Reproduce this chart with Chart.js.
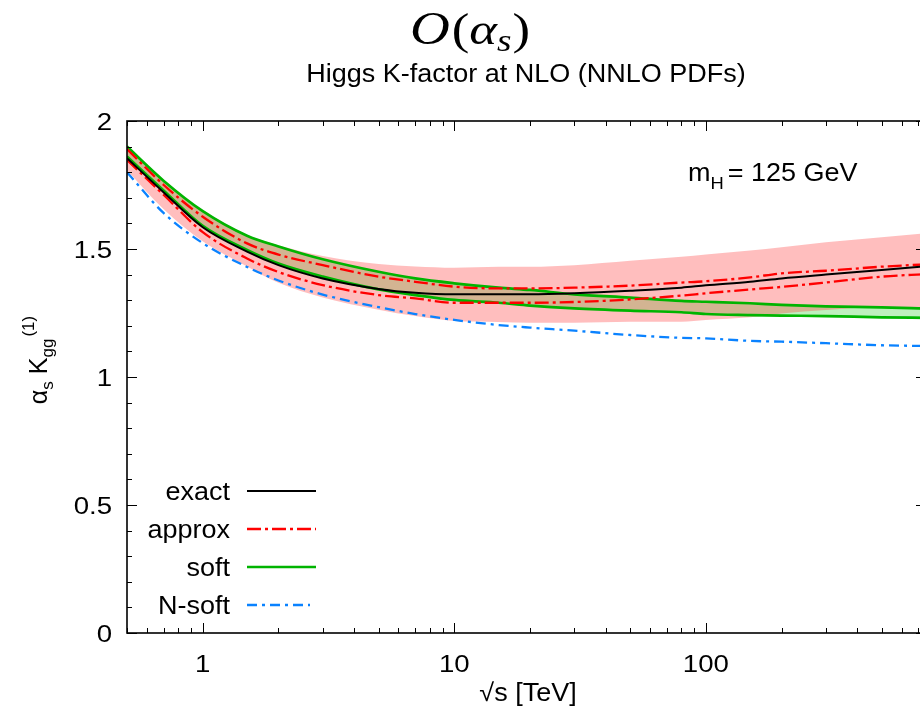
<!DOCTYPE html>
<html><head><meta charset="utf-8">
<script src="https://cdn.jsdelivr.net/npm/chart.js@4/dist/chart.umd.min.js"></script>
<style>
html,body{margin:0;padding:0;background:#fff;overflow:hidden}
#wrap{width:920px;height:707px;overflow:hidden;position:relative}
canvas{display:block}
</style>
</head><body><div id="wrap"><canvas id="c" width="932" height="707" style="width:932px;height:707px"></canvas></div>
<script>
// ---- data ----
const sqrtS    = [0.5, 0.7, 1, 1.5, 2, 3, 5, 7, 10, 15, 20, 30, 50, 80, 100, 150, 200, 300, 500, 750];
const exact    = [1.855,1.721,1.585,1.490,1.437,1.385,1.344,1.329,1.323,1.323,1.323,1.327,1.337,1.349,1.358,1.372,1.385,1.400,1.418,1.433];
const approxHi = [1.890,1.750,1.626,1.522,1.478,1.437,1.392,1.372,1.353,1.346,1.346,1.349,1.357,1.369,1.374,1.389,1.405,1.415,1.431,1.440];
const approxLo = [1.848,1.711,1.566,1.463,1.410,1.359,1.320,1.307,1.290,1.290,1.290,1.293,1.303,1.318,1.327,1.342,1.352,1.369,1.392,1.402];
const softHi   = [1.900,1.766,1.648,1.552,1.510,1.460,1.411,1.385,1.366,1.349,1.340,1.323,1.310,1.297,1.294,1.288,1.282,1.276,1.272,1.267];
const softLo   = [1.861,1.728,1.590,1.496,1.443,1.392,1.342,1.320,1.301,1.290,1.279,1.268,1.259,1.253,1.246,1.242,1.240,1.238,1.233,1.231];
const nSoft    = [1.800,1.640,1.523,1.430,1.377,1.322,1.273,1.246,1.223,1.203,1.193,1.181,1.164,1.153,1.151,1.141,1.138,1.132,1.124,1.121];
const bandHi   = [1.905,1.770,1.652,1.556,1.515,1.473,1.441,1.432,1.427,1.431,1.431,1.437,1.454,1.470,1.479,1.494,1.507,1.526,1.546,1.562];
const bandLo   = [1.808,1.655,1.530,1.432,1.368,1.311,1.263,1.238,1.219,1.215,1.212,1.212,1.216,1.216,1.223,1.233,1.248,1.262,1.272,1.272];

const xTickVals = [1, 10, 100];
const xTickLabels = ['1', '10', '100'];
const yTickVals = [0, 0.5, 1, 1.5, 2];
const yTickLabels = ['0', '0.5', '1', '1.5', '2'];
const legendNames = ['exact', 'approx', 'soft', 'N-soft'];

const FONT = '"Liberation Sans", Arial, Helvetica, sans-serif';
const SERIF = '"Liberation Serif", "Times New Roman", serif';
const pts = arr => arr.map((v, i) => ({x: sqrtS[i], y: v}));

const C_BLACK = '#000000', C_RED = '#ff0000', C_GREEN = '#00b400', C_BLUE = '#0a82ff';
const D_RED = [14, 4, 3, 4], D_BLUE = [10, 5, 3, 5];

const base = {pointRadius: 0, pointHoverRadius: 0, cubicInterpolationMode: 'monotone', fill: false};
const datasets = [
  {...base, label: 'exact', data: pts(exact), borderColor: C_BLACK, borderWidth: 2},
  {...base, label: 'approx', data: pts(approxHi), borderColor: C_RED, borderWidth: 2.3, borderDash: D_RED},
  {...base, label: 'approx2', data: pts(approxLo), borderColor: C_RED, borderWidth: 2.3, borderDash: D_RED},
  {...base, label: 'N-soft', data: pts(nSoft), borderColor: C_BLUE, borderWidth: 2.3, borderDash: D_BLUE},
  {...base, label: 'bandHi', data: pts(bandHi), borderWidth: 0, borderColor: 'rgba(0,0,0,0)', fill: '+1', backgroundColor: 'rgba(255,60,60,0.333)'},
  {...base, label: 'bandLo', data: pts(bandLo), borderWidth: 0, borderColor: 'rgba(0,0,0,0)'},
  {...base, label: 'soft', data: pts(softHi), borderColor: C_GREEN, borderWidth: 2.7, fill: '+1', backgroundColor: 'rgb(190,240,190)'},
  {...base, label: 'soft2', data: pts(softLo), borderColor: C_GREEN, borderWidth: 2.7},
];

// draw a run of text segments with a horizontal stretch sx
function drawRich(ctx, segs, x, y, align, sx) {
  sx = sx || 1;
  let w = 0;
  segs.forEach(s => { ctx.font = s.font; s.w = ctx.measureText(s.text).width * sx; w += s.w + (s.gap || 0); });
  let cx = align === 'center' ? x - w / 2 : (align === 'right' ? x - w : x);
  ctx.textAlign = 'left';
  segs.forEach(s => {
    ctx.font = s.font;
    ctx.save(); ctx.translate(cx, y + (s.dy || 0)); ctx.scale(sx, 1);
    ctx.fillText(s.text, 0, 0); ctx.restore();
    cx += s.w + (s.gap || 0);
  });
}

const TICK_FONT = '23px ' + FONT, TICK_SX = 1.2;
const TEXT_FONT = '25px ' + FONT, SUB_FONT = '17px ' + FONT, TEXT_SX = 1.08;

const decor = {
  id: 'decor',
  afterDraw(chart) {
    const ctx = chart.ctx, a = chart.chartArea, xs = chart.scales.x, ys = chart.scales.y;
    ctx.save();
    ctx.strokeStyle = '#000'; ctx.lineWidth = 1.6; ctx.setLineDash([]);
    ctx.strokeRect(a.left, a.top, a.right - a.left, a.bottom - a.top);
    ctx.lineWidth = 1;
    ctx.beginPath();
    for (let e = -1; e <= 3; e++) {
      for (let k = 1; k <= 9; k++) {
        const v = k * Math.pow(10, e);
        if (v < xs.min - 1e-9 || v > xs.max + 1e-9) continue;
        const px = Math.round(xs.getPixelForValue(v)) + 0.5;
        const len = k === 1 ? 10 : 5;
        ctx.moveTo(px, a.bottom); ctx.lineTo(px, a.bottom - len);
        ctx.moveTo(px, a.top); ctx.lineTo(px, a.top + len);
      }
    }
    for (let i = 0; i <= 20; i++) {
      const v = i / 10;
      const py = Math.round(ys.getPixelForValue(v)) + 0.5;
      const len = i % 5 === 0 ? 10 : 5;
      ctx.moveTo(a.left, py); ctx.lineTo(a.left + len, py);
      ctx.moveTo(a.right, py); ctx.lineTo(a.right - len, py);
    }
    ctx.stroke();

    ctx.fillStyle = '#000';
    ctx.textBaseline = 'alphabetic';
    // tick labels, placed through the scales
    xTickVals.forEach((v, i) => drawRich(ctx, [{text: xTickLabels[i], font: TICK_FONT}], xs.getPixelForValue(v), 672, 'center', TICK_SX));
    yTickVals.forEach((v, i) => drawRich(ctx, [{text: yTickLabels[i], font: TICK_FONT}], 112, ys.getPixelForValue(v) + 8.5, 'right', TICK_SX));

    // main title
    drawRich(ctx, [
      {text: 'O', font: 'italic 46px ' + SERIF, gap: 2},
      {text: '(', font: '44px ' + SERIF},
      {text: '\u03b1', font: 'italic 44px ' + SERIF},
      {text: 's', font: 'italic 31px ' + SERIF, dy: 7, gap: 1},
      {text: ')', font: '44px ' + SERIF}
    ], 470, 44, 'center', 1.2);
    // subtitle
    drawRich(ctx, [{text: 'Higgs K-factor at NLO (NNLO PDFs)', font: TEXT_FONT}], 526, 82, 'center', TEXT_SX);
    // x axis title
    drawRich(ctx, [{text: '\u221as [TeV]', font: TEXT_FONT}], 528, 701, 'center', TEXT_SX);
    // y axis title
    ctx.save();
    ctx.translate(47, 360); ctx.rotate(-Math.PI / 2);
    drawRich(ctx, [
      {text: '\u03b1', font: TEXT_FONT},
      {text: 's', font: SUB_FONT, dy: 6, gap: 7},
      {text: 'K', font: TEXT_FONT},
      {text: 'gg', font: SUB_FONT, dy: 6, gap: 2},
      {text: '(1)', font: SUB_FONT, dy: -13}
    ], 0, 0, 'center', 1);
    ctx.restore();
    // m_H label
    drawRich(ctx, [
      {text: 'm', font: TEXT_FONT},
      {text: 'H', font: SUB_FONT, dy: 8, gap: 4},
      {text: '= 125 GeV', font: TEXT_FONT}
    ], 688, 181, 'left', TEXT_SX);
    // legend
    const rows = [
      {color: C_BLACK, w: 2, dash: [], end: 316},
      {color: C_RED, w: 2.3, dash: D_RED, end: 316},
      {color: C_GREEN, w: 2.7, dash: [], end: 316},
      {color: C_BLUE, w: 2.3, dash: D_BLUE, end: 310}
    ];
    const rowY = [491, 529, 567, 605];
    rows.forEach((r, i) => {
      ctx.fillStyle = '#000';
      drawRich(ctx, [{text: legendNames[i], font: TEXT_FONT}], 230, rowY[i] + 9, 'right', TEXT_SX);
      ctx.beginPath(); ctx.strokeStyle = r.color; ctx.lineWidth = r.w; ctx.setLineDash(r.dash);
      ctx.moveTo(247, rowY[i]); ctx.lineTo(r.end, rowY[i]); ctx.stroke();
    });
    ctx.restore();
  }
};

new Chart(document.getElementById('c'), {
  type: 'line',
  data: {datasets},
  options: {
    responsive: false, animation: false, devicePixelRatio: 1,
    layout: {padding: {top: 121, right: 6, left: 0, bottom: 0}},
    plugins: {legend: {display: false}, tooltip: {enabled: false}, title: {display: false},
              filler: {drawTime: 'beforeDatasetsDraw'}},
    scales: {
      x: {
        type: 'logarithmic', min: 0.5, max: 750, bounds: 'data',
        grid: {display: false}, border: {display: false},
        afterBuildTicks: s => { s.ticks = xTickVals.map(v => ({value: v})); },
        afterFit: s => { s.height = 707 - 633; },
        ticks: {display: false}
      },
      y: {
        type: 'linear', min: 0, max: 2,
        grid: {display: false}, border: {display: false},
        afterBuildTicks: s => { s.ticks = yTickVals.map(v => ({value: v})); },
        afterFit: s => { s.width = 127; },
        ticks: {display: false}
      }
    }
  },
  plugins: [decor]
});
</script></body></html>
